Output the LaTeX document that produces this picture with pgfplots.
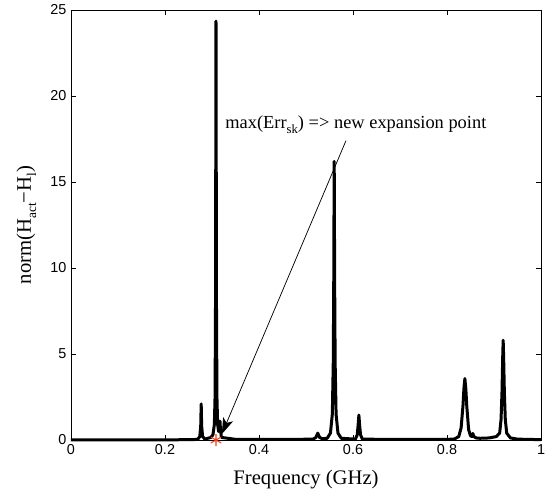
\documentclass[border=0pt]{standalone}
\usepackage{pgfplots}
\pgfplotsset{compat=1.18}
\usepackage{fontspec}
\setmainfont{Liberation Serif}
\newfontfamily\arial{Liberation Sans}
\usetikzlibrary{arrows.meta}
\definecolor{starred}{rgb}{0.92,0.25,0.1}
\begin{document}
\begin{tikzpicture}
\begin{axis}[
  scale only axis,
  width=352.5pt, height=322.5pt,
  xmin=0, xmax=1, ymin=0, ymax=25,
  xtick={0,0.2,0.4,0.6,0.8,1},
  ytick={0,5,10,15,20,25},
  xticklabels={0,0.2,0.4,0.6,0.8,1},
  yticklabels={0,5,10,15,20,25},
  tick align=inside,
  major tick length=4pt,
  tick style={black, line width=0.5pt},
  axis line style={line width=0.6pt},
  tick label style={font=\arial\fontsize{10.8}{12}\selectfont},
  /pgf/number format/assume math mode=true,
  xlabel={Frequency (GHz)},
  ylabel={norm(H\raisebox{-0.55ex}{\fontsize{10}{11}\selectfont act}−H\raisebox{-0.55ex}{\fontsize{10}{11}\selectfont l})},
  every axis x label/.style={at={(axis description cs:0.5,-0.093)}, anchor=center, font=\fontsize{15.5}{18}\selectfont},
  every axis y label/.style={at={(axis description cs:-0.095,0.5)}, rotate=90, anchor=center, font=\fontsize{15.5}{18}\selectfont},
  clip=false,
]
\addplot[black, line width=2.25pt, line join=round] coordinates {
(0,0.01) (0.2,0.01) (0.26,0.02)
(0.270,0.05) (0.274,0.2) (0.276,0.8) (0.277,2.1) (0.278,0.8) (0.280,0.2) (0.285,0.05)
(0.2975,0.15) (0.302,0.3) (0.305,0.9) (0.3065,2.5) (0.3075,8) (0.3085,24.35) (0.3095,8) (0.3105,2.5) (0.312,0.9) (0.314,0.5) (0.316,0.6) (0.317,1.1) (0.318,0.6) (0.320,0.15)
(0.35,0.04) (0.45,0.03)
(0.515,0.05) (0.521,0.15) (0.525,0.4) (0.529,0.15) (0.535,0.07)
(0.545,0.1) (0.552,0.4) (0.556,1.5) (0.558,4.5) (0.559,9) (0.560,16.2) (0.561,9) (0.562,4.5) (0.564,1.5) (0.568,0.4) (0.575,0.1)
(0.605,0.05) (0.609,0.3) (0.611,0.9) (0.6125,1.45) (0.614,0.9) (0.616,0.3) (0.62,0.05)
(0.7,0.03) (0.8,0.04)
(0.815,0.05) (0.825,0.2) (0.830,0.7) (0.834,2.0) (0.836,3.0) (0.838,3.57) (0.840,3.0) (0.842,2.0) (0.846,0.6) (0.850,0.25) (0.853,0.2) (0.855,0.38) (0.857,0.2) (0.862,0.12) (0.87,0.1) (0.89,0.12) (0.905,0.2)
(0.912,0.4) (0.915,1.2) (0.917,2.8) (0.9185,4.8) (0.9195,5.8) (0.9205,4.8) (0.922,2.8) (0.924,1.2) (0.927,0.4) (0.935,0.12) (0.95,0.05) (1,0.02)
};
\addplot[only marks, mark=asterisk, mark size=4.5pt, starred, mark options={line width=0.8pt}] coordinates {(0.3085,0)};
\draw[line width=0.55pt, -{Stealth[length=12pt, width=8pt, inset=3pt]}] (axis cs:0.585,17.4) -- (axis cs:0.321,0.35);
\node[anchor=base west, inner sep=0pt, font=\fontsize{13.8}{16}\selectfont] at (axis cs:0.328,18.1) {max(Err\raisebox{-0.6ex}{\fontsize{9.5}{11}\selectfont sk}) => new expansion point};
\end{axis}
\pgfresetboundingbox
\path[use as bounding box] ([xshift=-53.25pt,yshift=-42pt]current axis.south west) rectangle ([xshift=5.25pt,yshift=7.5pt]current axis.north east);
\end{tikzpicture}
\end{document}
